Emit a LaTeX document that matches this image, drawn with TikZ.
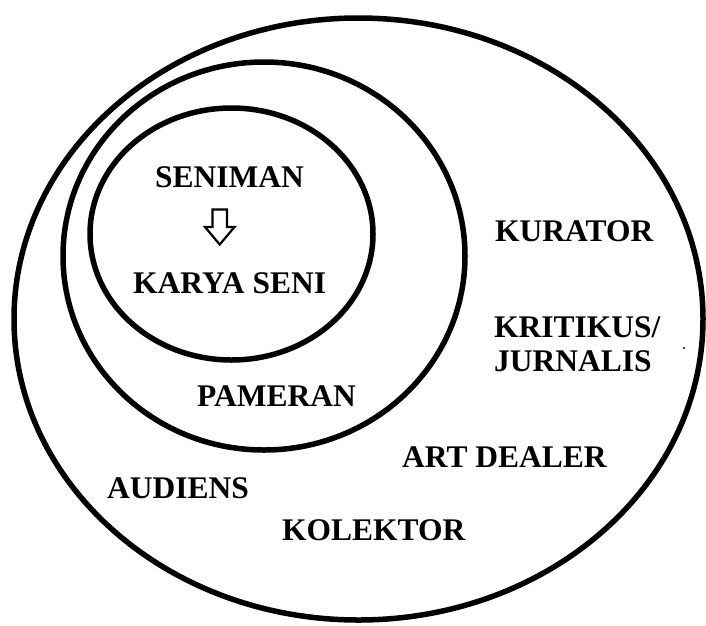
\documentclass[tikz,border=0pt]{standalone}
\usepackage{fontspec}
\setmainfont{Liberation Serif}
\begin{document}
\begin{tikzpicture}[x=1pt,y=-1pt,
  ring/.style={draw=black,line width=5.5pt},
  lbl/.style={anchor=base west,inner sep=0pt,font=\bfseries\fontsize{31.5}{36}\selectfont}]
\useasboundingbox (0,0) rectangle (706,625);
\fill[white] (0,0) rectangle (706,625);
% rings
\draw[ring] (358.5,319) ellipse [x radius=344.5pt, y radius=301pt];
\draw[ring] (264,256) ellipse [x radius=201pt, y radius=194pt];
\draw[ring] (231.5,234) ellipse [x radius=141.5pt, y radius=126pt];
% labels
\node[lbl] (seniman) at (155,187) {SENIMAN};
\node[lbl] (karya) at (133,293) {KARYA SENI};
\node[lbl] (pameran) at (197,406) {PAMERAN};
\node[lbl] (kurator) at (495,241) {KURATOR};
\node[lbl] (kritikus) at (494,337) {KRITIKUS/};
\node[lbl] (jurnalis) at (494,371) {JURNALIS};
\node[lbl] (dealer) at (402,467) {ART DEALER};
\node[lbl] (audiens) at (107,498) {AUDIENS};
\node[lbl] (kolektor) at (282,540) {KOLEKTOR};
% outline arrow
\draw[line width=2.2pt,line join=miter,fill=white]
  (212.5,209.5) -- (227,209.5) -- (227,227) -- (234.5,227) -- (219.7,244.5)
  -- (205,227) -- (212.5,227) -- cycle;
% stray dot
\fill (684,348) circle [radius=1.2pt];
\end{tikzpicture}
\end{document}
